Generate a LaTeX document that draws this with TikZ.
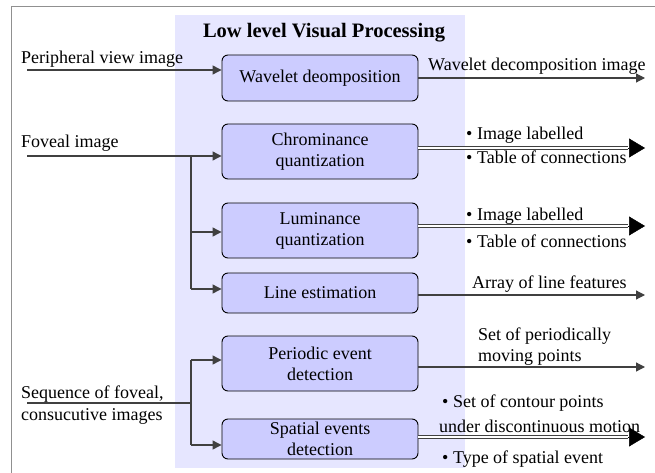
\documentclass[tikz,border=0pt]{standalone}
\usepackage{fontspec}
\setmainfont{Liberation Serif}
\usetikzlibrary{arrows.meta}
\definecolor{panel}{HTML}{E6E6FF}
\definecolor{boxfill}{HTML}{CCCCFF}
\definecolor{wire}{HTML}{404040}
\definecolor{frame}{HTML}{909090}
\begin{document}
\begin{tikzpicture}[x=1pt,y=-1pt,
  font=\rmfamily\fontsize{18}{21}\selectfont,
  stage/.style={draw=black, line width=0.9pt, fill=boxfill, rounded corners=6pt,
    minimum width=196pt, align=center, inner sep=0pt},
  feed/.style={draw=wire, line width=1.2pt, -{Triangle[length=9pt,width=9pt]}},
  wireline/.style={draw=wire, line width=1.2pt},
  bundle/.style={draw=wire, line width=1pt, double=white, double distance=2pt},
  bundletip/.style={draw=black, line width=0.5pt, -{Triangle[length=16pt,width=19pt]}},
  lbl/.style={anchor=base west, inner sep=0pt},
  title/.style={font=\rmfamily\fontsize{20.5}{24}\selectfont\bfseries, inner sep=0pt}]
\useasboundingbox (0,0) rectangle (655,473);

% outer frame and processing panel
\draw[frame, line width=1pt] (655,7) -| (11,473);
\fill[panel] (175,15) rectangle (465,468);
\node[title, anchor=base] (ttl) at (324,38) {Low level Visual Processing};

% processing stages
\node[stage, minimum height=46pt] (wav) at (320,78) {Wavelet deomposition};
\node[stage, minimum height=55pt] (chr) at (320,151.5) {Chrominance\\quantization};
\node[stage, minimum height=55pt] (lum) at (320,230.5) {Luminance\\quantization};
\node[stage, minimum height=40pt] (lin) at (320,293) {Line estimation};
\node[stage, minimum height=55pt] (per) at (320,363.5) {Periodic event\\detection};
\node[stage, minimum height=40pt] (spa) at (320,439) {Spatial events\\detection};

% inputs
\coordinate (pin) at (27,70);
\coordinate (fin) at (27,156);
\coordinate (fsplit) at (191,156);
\coordinate (lumin) at (191,232);
\coordinate (linin) at (191,289);
\coordinate (sin) at (27,403);
\coordinate (ssplit) at (191,403);
\coordinate (perin) at (191,360);
\coordinate (spain) at (191,445);

\node[lbl] (pl) at (21,64) {Peripheral view image};
\node[lbl] (fl) at (21,148) {Foveal image};
\node[lbl] (sl1) at (21,398) {Sequence of foveal,};
\node[lbl] (sl2) at (21,420) {consucutive images};

\draw[feed] (pin) -- (wav.west |- pin);
\draw[feed] (fin) -- (chr.west |- fin);
\draw[wireline] (fsplit) -- (linin);
\draw[feed] (lumin) -- (lum.west |- lumin);
\draw[feed] (linin) -- (lin.west |- linin);
\draw[wireline] (sin) -- (ssplit);
\draw[wireline] (perin) -- (spain);
\draw[feed] (perin) -- (per.west |- perin);
\draw[feed] (spain) -- (spa.west |- spain);

% outputs
\coordinate (wout) at (645,78);
\coordinate (cbase) at (628,148);
\coordinate (cout) at (645,148);
\coordinate (lbase) at (628,226);
\coordinate (lout) at (645,226);
\coordinate (liout) at (645,295);
\coordinate (pout) at (645,367);
\coordinate (sbase) at (628,437);
\coordinate (sout) at (645,437);

\draw[feed] (wav.east |- wout) -- (wout);
\draw[bundle] (chr.east |- cbase) -- (cbase);
\draw[bundletip] (cbase) -- (cout);
\draw[bundle] (lum.east |- lbase) -- (lbase);
\draw[bundletip] (lbase) -- (lout);
\draw[feed] (lin.east |- liout) -- (liout);
\draw[feed] (per.east |- pout) -- (pout);
\draw[bundle] (spa.east |- sbase) -- (sbase);
\draw[bundletip] (sbase) -- (sout);

\node[lbl] (wl) at (428,71) {Wavelet decomposition image};
\node[lbl] (c1) at (466,140) {• Image labelled};
\node[lbl] (c2) at (466,164) {• Table of connections};
\node[lbl] (l1) at (466,220) {• Image labelled};
\node[lbl] (l2) at (466,247) {• Table of connections};
\node[lbl] (al) at (472,288) {Array of line features};
\node[lbl] (p1) at (478,340) {Set of periodically};
\node[lbl] (p2) at (478,361) {moving points};
\node[lbl] (s1) at (442,407) {• Set of contour points};
\node[lbl] (s2) at (439,432) {under discontinuous motion};
\node[lbl] (s3) at (442,463) {• Type of spatial event};
\end{tikzpicture}
\end{document}
